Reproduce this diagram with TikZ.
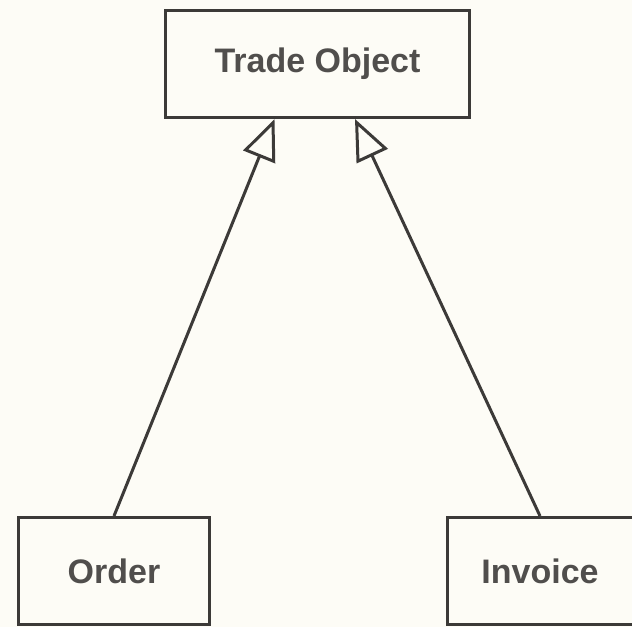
\documentclass[tikz,border=0pt]{standalone}
\usepackage{fontspec}
\setmainfont{Liberation Sans}
\usetikzlibrary{arrows.meta}
\definecolor{paper}{HTML}{FDFCF6}
\definecolor{ink}{HTML}{3C3A38}

\begin{document}
\begin{tikzpicture}[
        x=1pt, y=1pt,
        font=\fontsize{34}{40}\selectfont\bfseries,
        class/.style={draw=ink, line width=3pt, align=center, text=ink!90, fill=paper, minimum height=107pt},
        inherits/.style={draw=ink, line width=3pt, -{Triangle[open, length=41pt, width=34pt, line width=3pt, fill=paper]}}
      ]
      \fill[paper] (0,0) rectangle (632,627);
      \useasboundingbox (0,0) rectangle (632,627);

      \node[class, minimum width=304pt] (trade) at (317.5,563) {Trade Object};
      \node[class, minimum width=191pt] (order) at (114,56) {Order};
      \node[class, minimum width=186pt] (invoice) at (540,56) {Invoice};

      \draw[inherits] (order.north) -- ([xshift=-43pt]trade.south);
      \draw[inherits] (invoice.north) -- ([xshift=37.5pt]trade.south);
    \end{tikzpicture}
\end{document}
